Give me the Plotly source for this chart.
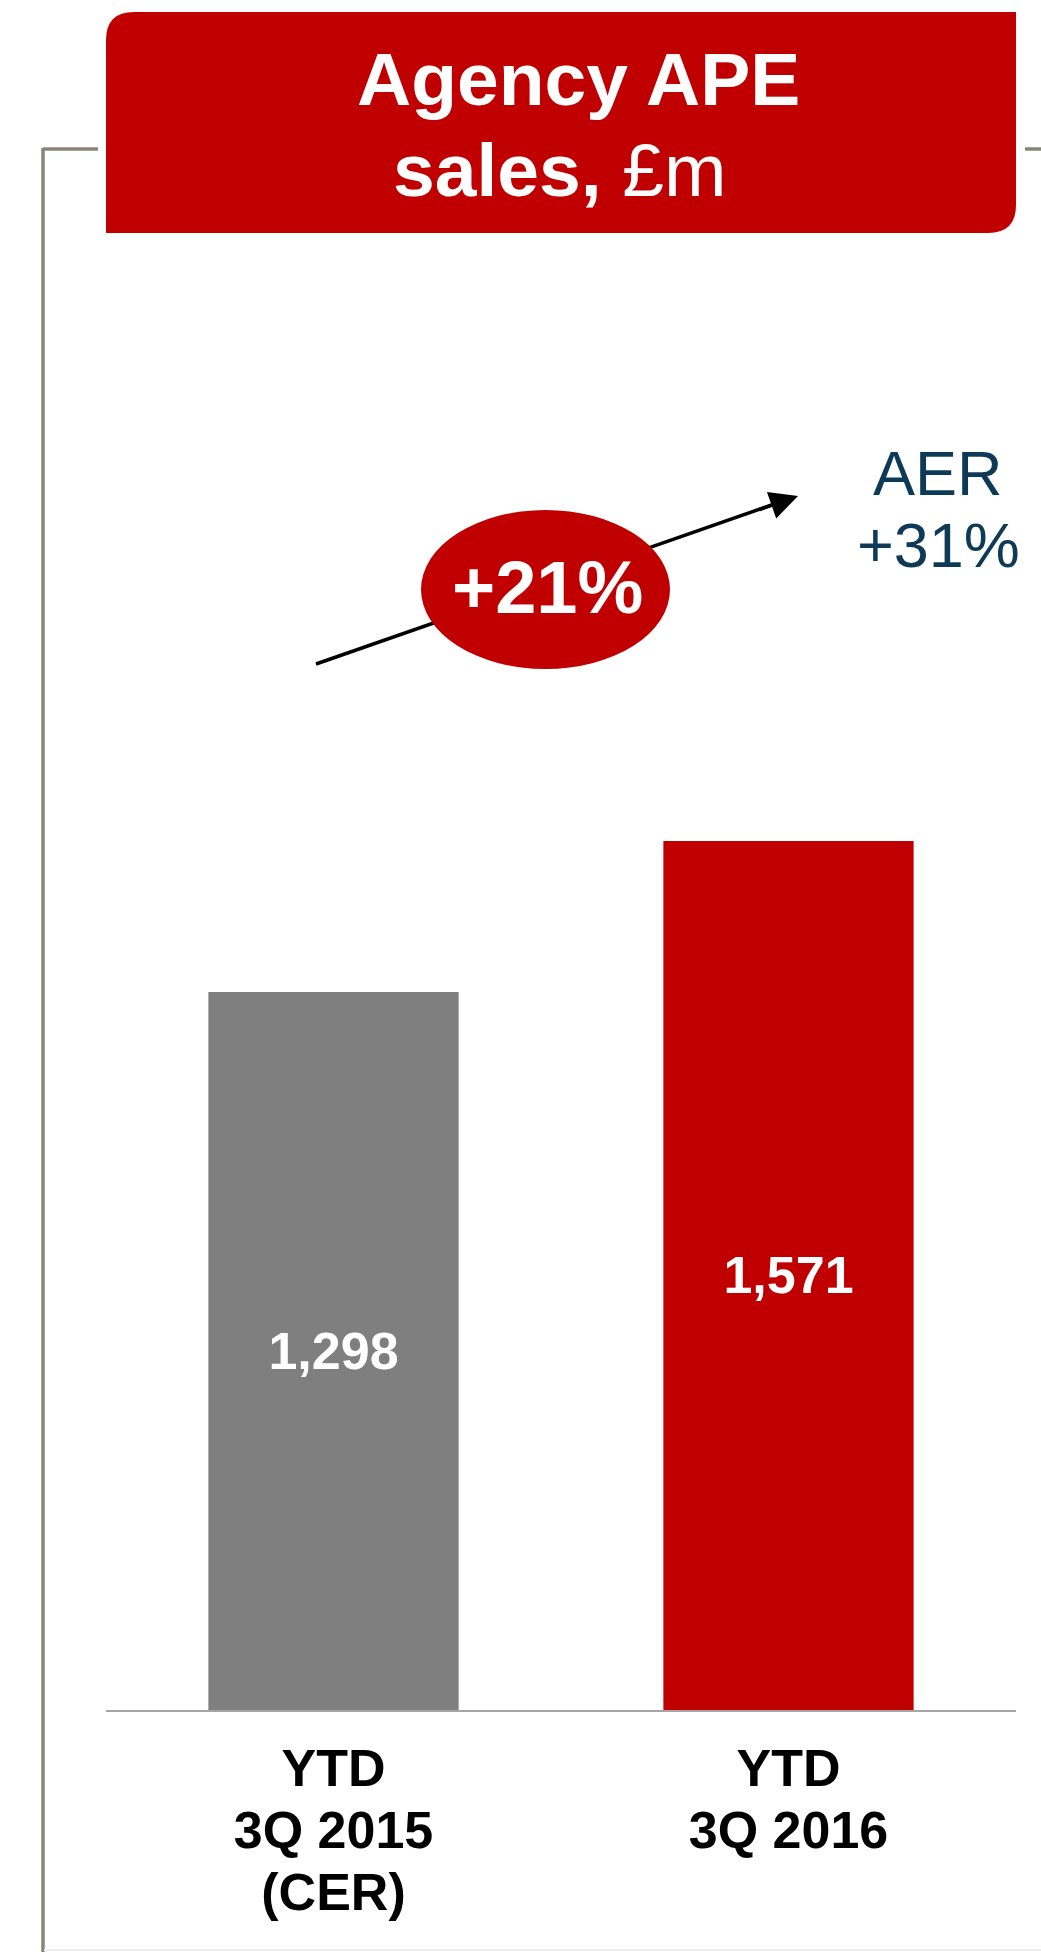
import plotly.graph_objects as go

# Agency APE sales, £m
categories = ["YTD<br>3Q 2015<br>(CER)", "YTD<br>3Q 2016"]
values = [1298, 1571]
bar_colors = ["#7F7F7F", "#C00000"]
growth_label = "+21%"
aer_label = ["AER", "+31%"]
title_lines = ["<b>Agency APE</b>", "<b>sales,</b> £m"]

W, H = 1041, 1952
RED = "#C00000"
FRAME = "#8A8479"
NAVY = "#0D3A56"
FONT = "Liberation Sans, Arial, sans-serif"


def px(x):
    return x / W


def py(y):
    return 1 - y / H


def tick_text(label, size=52):
    # larger glyphs on a tighter line pitch (pitch follows the base tick font)
    return "<br>".join(f"<span style='font-size:{size}px'>{part}</span>"
                       for part in label.split("<br>"))


fig = go.Figure(
    go.Bar(
        x=categories,
        y=values,
        width=0.55,
        marker=dict(color=bar_colors, line=dict(width=0)),
        texttemplate="%{y:,}",
        textposition="inside",
        insidetextanchor="middle",
        constraintext="none",
        textangle=0,
        textfont=dict(family=FONT, size=52, color="white", weight="bold"),
        hoverinfo="skip",
    )
)

# plot area: baseline at y=1710 px, 250..1710 px tall
y_top_px, y_base_px = 250, 1710
scale = 718 / 1298  # pixels per £m
fig.update_layout(
    width=W,
    height=H,
    margin=dict(l=0, r=0, t=0, b=0),
    paper_bgcolor="white",
    plot_bgcolor="white",
    showlegend=False,
    xaxis=dict(
        domain=[px(106), px(1016)],
        range=[-0.5, 1.5],
        showline=True,
        linecolor="#A6A6A6",
        linewidth=2,
        ticks="",
        showgrid=False,
        tickmode="array",
        tickvals=categories,
        ticktext=[tick_text(c) for c in categories],
        tickfont=dict(family=FONT, size=48, color="black", weight="bold"),
        ticklabelstandoff=16,
    ),
    yaxis=dict(
        domain=[py(y_base_px), py(y_top_px)],
        range=[0, (y_base_px - y_top_px) / scale],
        visible=False,
        showgrid=False,
        zeroline=False,
    ),
)


def title_box_path(x0, y0, x1, y1, r):
    pts = [
        ("M", [(x0, y0 + r)]),
        ("Q", [(x0, y0), (x0 + r, y0)]),
        ("L", [(x1, y0)]),
        ("L", [(x1, y1 - r)]),
        ("Q", [(x1, y1), (x1 - r, y1)]),
        ("L", [(x0, y1)]),
    ]
    out = []
    for cmd, ps in pts:
        out.append(cmd + " " + " ".join(f"{px(a):.5f},{py(b):.5f}" for a, b in ps))
    return " ".join(out) + " Z"


shapes = [
    # frame lines
    dict(type="line", xref="paper", yref="paper", x0=px(43), x1=px(98), y0=py(149), y1=py(149),
         line=dict(color=FRAME, width=3.5)),
    dict(type="line", xref="paper", yref="paper", x0=px(43), x1=px(43), y0=py(148), y1=py(1952),
         line=dict(color=FRAME, width=3.5)),
    dict(type="line", xref="paper", yref="paper", x0=px(1025), x1=px(1041), y0=py(149), y1=py(149),
         line=dict(color=FRAME, width=3.5)),
    dict(type="line", xref="paper", yref="paper", x0=px(44), x1=px(1041), y0=py(1950), y1=py(1950),
         line=dict(color="#EEEEEE", width=2)),
    # title box
    dict(type="path", xref="paper", yref="paper", path=title_box_path(106, 12, 1016, 233, 28),
         fillcolor=RED, line=dict(width=0)),
    # growth arrow body
    dict(type="line", xref="paper", yref="paper", x0=px(316), y0=py(664), x1=px(783), y1=py(501),
         line=dict(color="black", width=3.5)),
    # growth bubble
    dict(type="circle", xref="paper", yref="paper", x0=px(421), x1=px(670), y0=py(510), y1=py(669),
         fillcolor=RED, line=dict(width=0)),
]
fig.update_layout(shapes=shapes)

annotations = [
    dict(text=title_lines[0], x=px(578), y=py(79), font=dict(family=FONT, size=75, color="white")),
    dict(text=title_lines[1], x=px(560), y=py(170), font=dict(family=FONT, size=75, color="white")),
    dict(text=growth_label, x=px(547), y=py(587), font=dict(family=FONT, size=74, color="white", weight="bold")),
    dict(text=aer_label[0], x=px(938), y=py(473), font=dict(family=FONT, size=63, color=NAVY)),
    dict(text=aer_label[1], x=px(938), y=py(545), font=dict(family=FONT, size=63, color=NAVY)),
]
for a in annotations:
    a.update(xref="paper", yref="paper", xanchor="center", yanchor="middle", showarrow=False)

# arrowhead at the tip of the growth arrow
annotations.append(
    dict(xref="paper", yref="paper", x=px(798), y=py(496), ax=-40, ay=14, text="",
         showarrow=True, arrowhead=2, arrowsize=1.6, arrowwidth=3.5, arrowcolor="black")
)
fig.update_layout(annotations=annotations)

fig.write_html("out.html")
